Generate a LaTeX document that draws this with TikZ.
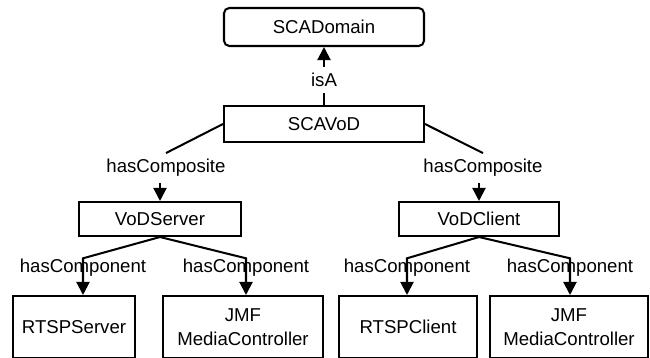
\documentclass[tikz,border=0pt]{standalone}
\usepackage{fontspec}
\setmainfont{Liberation Sans}
\usetikzlibrary{arrows.meta}

\begin{document}
\begin{tikzpicture}[x=0.02cm,y=-0.02cm,line width=1.15pt,
  font=\fontsize{10.6}{14}\selectfont,
  box/.style={draw,inner sep=0pt,align=center,minimum height=34*0.02cm},
  leaf/.style={box,minimum height=62*0.02cm},
  rel/.style={inner sep=0pt},
  arr/.style={-{Triangle[width=7.5pt,length=7.5pt]}}]
\useasboundingbox (0,0) rectangle (650,358);
\clip (0,0) rectangle (650,358);
\node [box,rounded corners=3pt,minimum width=200*0.02cm,minimum height=38*0.02cm] (dom) at (324,27) {SCADomain};
\node [box,minimum width=200*0.02cm,minimum height=36*0.02cm] (vod) at (324,124) {SCAVoD};
\node [box,minimum width=162*0.02cm] (vserver) at (160,219) {VoDServer};
\node [box,minimum width=160*0.02cm] (vclient) at (479,219) {VoDClient};
\node [leaf,minimum width=122*0.02cm] (rserver) at (74,327) {RTSPServer};
\node [leaf,minimum width=160*0.02cm] (jmfs) at (243,327) {JMF\\MediaController};
\node [leaf,minimum width=138*0.02cm] (rclient) at (408,327) {RTSPClient};
\node [leaf,minimum width=158*0.02cm] (jmfc) at (569,327) {JMF\\MediaController};
\node [rel,inner sep=3pt] (isa) at (324,80) {isA};
\node [rel,inner sep=3pt] (lcomp) at (166,168) {hasComposite};
\node [rel,inner sep=3pt] (rcomp) at (483,168) {hasComposite};
\node [rel] (lc1) at (83,268) {hasComponent};
\node [rel] (lc2) at (246,268) {hasComponent};
\node [rel] (rc1) at (407,268) {hasComponent};
\node [rel] (rc2) at (570,268) {hasComponent};
\draw (vod) -- (isa);
\draw [arr] (isa) -- (dom);
\draw (vod.west) -- (lcomp.north);
\draw [arr] (vserver |- lcomp.south) -- (vserver);
\draw (vod.east) -- (rcomp.north);
\draw [arr] (vclient |- rcomp.south) -- (vclient);
\draw [arr] (vserver.south) -- (lc1.north) -- (lc1 |- rserver.north);
\draw [arr] (vserver.south) -- (lc2.north) -- (lc2 |- jmfs.north);
\draw [arr] (vclient.south) -- (rc1.north) -- (rc1 |- rclient.north);
\draw [arr] (vclient.south) -- (rc2.north) -- (rc2 |- jmfc.north);
\end{tikzpicture}
\end{document}
